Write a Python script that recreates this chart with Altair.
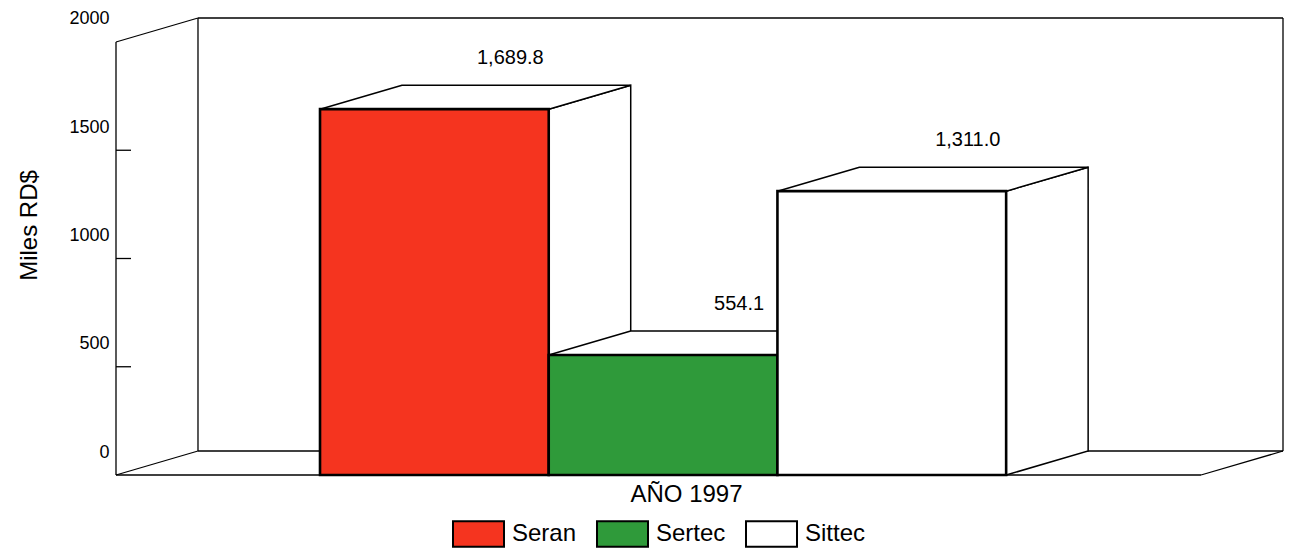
import altair as alt
import pandas as pd

# ---- data ----
series = ["Seran", "Sertec", "Sittec"]
values = [1689.8, 554.1, 1311.0]
colors = ["#F5341F", "#2F9A3A", "#FFFFFF"]
tick_values = [0, 500, 1000, 1500, 2000]
y_title = "Miles RD$"
x_title = "AÑO 1997"

# ---- 3D-look geometry (data units) ----
FONT = "Liberation Sans"
DX = 0.3585          # depth offset along x (bar units)
DY = 110.85          # depth offset along y (value units)
XL, XR = -0.892, 3.852   # front floor extent
YMAX = 2000

xs = alt.Scale(domain=[XL, XR + DX], nice=False, zero=False)
ys = alt.Scale(domain=[-41.57, YMAX + DY], nice=False, zero=False)

# bars table
bars = pd.DataFrame({
    "series": series,
    "value": values,
    "x0": [i for i in range(len(series))],
    "x1": [i + 1 for i in range(len(series))],
})
bars["xl"] = (bars["x0"] + bars["x1"]) / 2 + DX
bars["yl"] = bars["value"] + DY

# frame segments
seg = [
    (XL, 0, XL, YMAX),
    (XL, YMAX, XL + DX, YMAX + DY),
    (XL + DX, YMAX + DY, XR + DX, YMAX + DY),
    (XR + DX, YMAX + DY, XR + DX, DY),
    (XL + DX, DY, XR + DX, DY),
    (XL + DX, DY, XL + DX, YMAX + DY),
    (XL, 0, XR, 0),
    (XL, 0, XL + DX, DY),
    (XR, 0, XR + DX, DY),
]
frame = pd.DataFrame(seg, columns=["xa", "ya", "xb", "yb"])

# inward ticks on the front axis
TL = 0.0656
ticks = pd.DataFrame({"t": tick_values[1:-1]})
ticks["xa"] = XL
ticks["xb"] = XL + TL

# side faces (vertical parallelograms)
side_rows = []
for s, v, x1 in zip(bars["series"], bars["value"], bars["x1"]):
    side_rows.append({"series": s, "sx": x1, "sy": 0, "sy2": v})
    side_rows.append({"series": s, "sx": x1 + DX, "sy": DY, "sy2": v + DY})
sides = pd.DataFrame(side_rows)

# top faces (horizontal parallelograms)
top_rows = []
for s, v, x0, x1 in zip(bars["series"], bars["value"], bars["x0"], bars["x1"]):
    top_rows.append({"series": s, "ty": v, "tx": x0, "tx2": x1})
    top_rows.append({"series": s, "ty": v + DY, "tx": x0 + DX, "tx2": x1 + DX})
tops = pd.DataFrame(top_rows)

frame_layer = alt.Chart(frame).mark_rule(color="black", strokeWidth=1.3).encode(
    x=alt.X("xa:Q", scale=xs, axis=alt.Axis(
        labels=False, ticks=False, domain=False, grid=False,
        title=x_title, titleFont=FONT, titleFontSize=24, titleFontWeight="normal",
        titleColor="black", titleX=570, titleY=10, titleBaseline="middle")),
    x2="xb:Q",
    y=alt.Y("ya:Q", scale=ys, axis=alt.Axis(
        values=tick_values, format="d", labelOffset=-23, ticks=False,
        domain=False, grid=False,
        labelPadding=7, labelFont=FONT, labelFontSize=18, labelColor="black",
        labelFlush=False, labelBound=False,
        title=y_title, titleFont=FONT, titleFontSize=24, titleFontWeight="normal",
        titleColor="black", titleX=-87, titleY=207, titleAngle=-90,
        titleBaseline="middle", titleAlign="center")),
    y2="yb:Q",
)

tick_layer = alt.Chart(ticks).mark_rule(color="black", strokeWidth=1.3).encode(
    x=alt.X("xa:Q", scale=xs), x2="xb:Q",
    y=alt.Y("t:Q", scale=ys),
)

side_layer = alt.Chart(sides).mark_area(
    orient="vertical", fill="white", stroke="black", strokeWidth=1.5
).encode(
    x=alt.X("sx:Q", scale=xs),
    y=alt.Y("sy:Q", scale=ys, stack=None),
    y2="sy2:Q",
    detail="series:N",
)

top_layer = alt.Chart(tops).mark_area(
    orient="horizontal", fill="white", stroke="black", strokeWidth=1.5
).encode(
    y=alt.Y("ty:Q", scale=ys),
    x=alt.X("tx:Q", scale=xs, stack=None),
    x2="tx2:Q",
    detail="series:N",
)

front_layer = alt.Chart(bars).mark_rect(stroke="black", strokeWidth=2.6).encode(
    x=alt.X("x0:Q", scale=xs), x2="x1:Q",
    y=alt.Y("value:Q", scale=ys), y2=alt.datum(0),
    fill=alt.Fill("series:N", sort=series,
                  scale=alt.Scale(domain=series, range=colors),
                  legend=alt.Legend(
                      orient="none", legendX=336, legendY=489,
                      direction="horizontal", title=None,
                      symbolType="M-1,-0.5H1V0.5H-1Z", symbolSize=2601,
                      symbolStrokeColor="black", symbolStrokeWidth=2,
                      symbolOpacity=1, symbolFillColor="white",
                      labelFont=FONT, labelFontSize=24, labelColor="black",
                      labelOffset=7, columnPadding=16, labelLimit=200)),
)

label_layer = alt.Chart(bars).mark_text(
    font=FONT, fontSize=20, color="black", dy=-27, dx=-6, baseline="middle"
).encode(
    x=alt.X("xl:Q", scale=xs),
    y=alt.Y("yl:Q", scale=ys),
    text=alt.Text("value:Q", format=",.1f"),
)

chart = alt.layer(
    frame_layer, tick_layer, side_layer, top_layer, front_layer, label_layer
).properties(
    width=1167, height=466,
    background="white",
    autosize=alt.AutoSizeParams(type="none"),
    padding={"left": 108, "top": 10, "right": 2, "bottom": 65},
).configure_view(stroke="transparent", strokeWidth=0)

chart.save("out.html", embed_options={"renderer": "svg", "actions": False})
